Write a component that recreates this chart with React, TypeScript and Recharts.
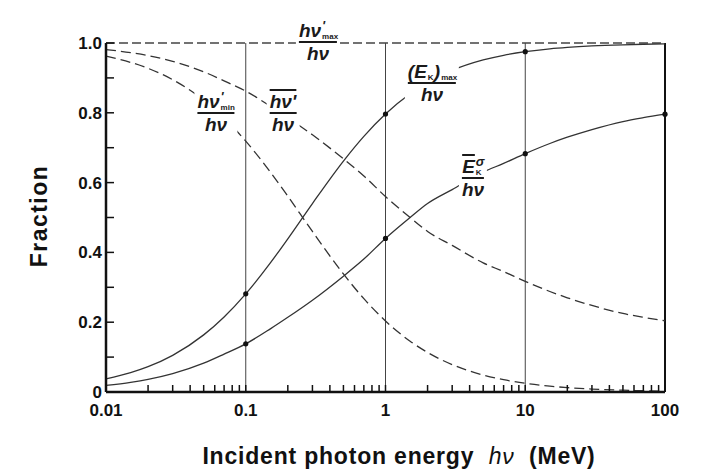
import React from 'react';
import { LineChart, Line, XAxis, YAxis, ReferenceLine } from 'recharts';

const FONT = '"Liberation Sans", Arial, Helvetica, sans-serif';

// incident photon energy, MeV
const energies = [0.01, 0.015, 0.02, 0.03, 0.05, 0.07, 0.1, 0.15, 0.2, 0.3, 0.5, 0.7, 1, 1.5, 2, 3, 5, 7, 10, 15, 20, 30, 50, 70, 100];

// (E_K)max / hν
const ekMaxFrac = [0.0377, 0.0555, 0.0726, 0.1051, 0.1637, 0.2151, 0.2813, 0.3699, 0.4391, 0.5401, 0.6618, 0.7326, 0.7965, 0.8545, 0.8867, 0.9215, 0.9514, 0.9648, 0.9751, 0.9833, 0.9874, 0.9916, 0.9949, 0.9964, 0.9975];
// mean E_K / hν
const ekMeanFrac = [0.0187, 0.0276, 0.0361, 0.0526, 0.0826, 0.1086, 0.138, 0.181, 0.214, 0.263, 0.332, 0.381, 0.44, 0.5, 0.54, 0.58, 0.63, 0.655, 0.683, 0.712, 0.73, 0.752, 0.775, 0.786, 0.796];
// hν'min / hν
const hvMinFrac = [0.9623, 0.9445, 0.9274, 0.8949, 0.8363, 0.7849, 0.7187, 0.6301, 0.5609, 0.4599, 0.3382, 0.2674, 0.2035, 0.1455, 0.1133, 0.0785, 0.0486, 0.0352, 0.0249, 0.0167, 0.0126, 0.0084, 0.0051, 0.0036, 0.0025];
// mean hν' / hν
const hvMeanFrac = [0.9813, 0.9724, 0.9639, 0.9474, 0.9174, 0.8914, 0.862, 0.819, 0.786, 0.737, 0.668, 0.619, 0.56, 0.5, 0.46, 0.42, 0.37, 0.345, 0.317, 0.288, 0.27, 0.248, 0.225, 0.214, 0.204];
// hν'max / hν
const hvMaxFrac = 1;

const xTicks = [
  0.01, 0.02, 0.03, 0.04, 0.05, 0.06, 0.07, 0.08, 0.09,
  0.1, 0.2, 0.3, 0.4, 0.5, 0.6, 0.7, 0.8, 0.9,
  1, 2, 3, 4, 5, 6, 7, 8, 9,
  10, 20, 30, 40, 50, 60, 70, 80, 90, 100,
];
const xLabels = [0.01, 0.1, 1, 10, 100];
const yTicks = [0, 0.1, 0.2, 0.3, 0.4, 0.5, 0.6, 0.7, 0.8, 0.9, 1];
const yLabels = ['0', '', '0.2', '', '0.4', '', '0.6', '', '0.8', '', '1.0'];
const gridEnergies = [0.1, 1, 10];
const ekMaxMarks = [0.1, 1, 10];
const ekMeanMarks = [0.1, 1, 10, 100];

const data = energies.map((e, i) => ({
  e,
  ekMax: ekMaxFrac[i],
  ekMean: ekMeanFrac[i],
  hvMin: hvMinFrac[i],
  hvMean: hvMeanFrac[i],
}));

const makeDot = (marks: number[]) => (props: any) => {
  const { cx, cy, payload, index } = props;
  if (!marks.includes(payload.e)) return <g key={`n${index}`} />;
  return <circle key={`d${index}`} cx={cx} cy={cy} r={2.6} fill="#111" />;
};

// super/subscript pair stacked after a symbol (absolute so they don't collide)
const Scripts = ({ sup, sub, w }: { sup?: string; sub?: string; w: number }) => (
  <span style={{ position: 'relative', display: 'inline-block', width: w, height: 19, verticalAlign: 'top', marginLeft: 1 }}>
    {sup && <span style={{ position: 'absolute', left: 0, top: -1, fontSize: 13, lineHeight: '12px' }}>{sup}</span>}
    {sub && <span style={{ position: 'absolute', left: 0, top: 12, fontSize: 8, lineHeight: '8px', fontStyle: 'normal' }}>{sub}</span>}
  </span>
);

const Frac = ({ x, y, num, den }: { x: number; y: number; num: React.ReactNode; den: React.ReactNode }) => (
  <div
    style={{
      position: 'absolute', left: x, top: y, transform: 'translate(-50%, -50%)',
      background: '#fff', display: 'flex', flexDirection: 'column', alignItems: 'center',
      fontFamily: FONT, fontStyle: 'italic', fontWeight: 700, fontSize: 19, lineHeight: '19px',
      color: '#1a1a1a', padding: '1px 3px',
    }}
  >
    <div style={{ whiteSpace: 'nowrap' }}>{num}</div>
    <div style={{ alignSelf: 'stretch', borderTop: '2px solid #1a1a1a', margin: '1px 0' }} />
    <div style={{ whiteSpace: 'nowrap' }}>{den}</div>
  </div>
);

export default function App() {
  return (
    <div style={{ position: 'absolute', left: 0, top: 0, width: 704, height: 469, background: '#fff' }}>
      <LineChart width={704} height={469} data={data} margin={{ top: 43, right: 39, left: 46, bottom: 47 }}>
        <XAxis
          dataKey="e"
          type="number"
          scale="log"
          domain={[0.01, 100]}
          ticks={xTicks}
          interval={0}
          tickFormatter={(v: number) => (xLabels.includes(v) ? String(v) : '')}
          tickSize={-7}
          tickMargin={19}
          height={30}
          axisLine={{ stroke: '#111', strokeWidth: 2.5 }}
          tickLine={{ stroke: '#111', strokeWidth: 1.5 }}
          tick={{ fill: '#111', fontSize: 17, fontWeight: 700, fontFamily: FONT }}
        />
        <YAxis
          type="number"
          domain={[0, 1]}
          ticks={yTicks}
          interval={0}
          tickFormatter={(v: number, i: number) => yLabels[i]}
          tickSize={-8}
          tickMargin={12}
          width={60}
          axisLine={{ stroke: '#111', strokeWidth: 2.5 }}
          tickLine={{ stroke: '#111', strokeWidth: 1.5 }}
          tick={{ fill: '#111', fontSize: 17, fontWeight: 700, fontFamily: FONT }}
        />
        {gridEnergies.map((g) => (
          <ReferenceLine key={g} x={g} stroke="#444" strokeWidth={1} />
        ))}
        <ReferenceLine x={100} stroke="#111" strokeWidth={2} />
        <ReferenceLine y={hvMaxFrac} stroke="#444" strokeWidth={1.4} strokeDasharray="9 4" />
        <Line dataKey="hvMean" type="monotone" stroke="#333" strokeWidth={1.3} strokeDasharray="10 5" dot={false} isAnimationActive={false} />
        <Line dataKey="hvMin" type="monotone" stroke="#333" strokeWidth={1.3} strokeDasharray="10 5" dot={false} isAnimationActive={false} />
        <Line dataKey="ekMax" type="monotone" stroke="#333" strokeWidth={1.3} dot={makeDot(ekMaxMarks)} isAnimationActive={false} />
        <Line dataKey="ekMean" type="monotone" stroke="#333" strokeWidth={1.3} dot={makeDot(ekMeanMarks)} isAnimationActive={false} />
      </LineChart>

      <Frac x={216} y={113} num={<span>hν<Scripts sup="'" sub="min" w={14} /></span>} den="hν" />
      <Frac x={318} y={42} num={<span>hν<Scripts sup="'" sub="max" w={15} /></span>} den="hν" />
      <Frac x={283} y={113} num={<span style={{ textDecoration: 'overline', textDecorationThickness: 2 }}>hν'</span>} den="hν" />
      <Frac x={432} y={83} num={<span>(E<Scripts sub="K" w={6} />)<Scripts sub="max" w={15} /></span>} den="hν" />
      <Frac x={473} y={178} num={<span><span style={{ textDecoration: 'overline', textDecorationThickness: 2 }}>E</span><Scripts sup="σ" sub="K" w={8} /></span>} den="hν" />

      <div
        style={{
          position: 'absolute', left: 39, top: 216, transform: 'translate(-50%, -50%) rotate(-90deg)',
          fontFamily: FONT, fontWeight: 700, fontSize: 23, letterSpacing: 1.5, color: '#111', whiteSpace: 'nowrap',
        }}
      >
        Fraction
      </div>
      <div
        style={{
          position: 'absolute', left: 399, top: 456, transform: 'translate(-50%, -50%)',
          fontFamily: FONT, fontWeight: 700, fontSize: 23, letterSpacing: 0.8, color: '#111', whiteSpace: 'pre',
        }}
      >
        {'Incident photon energy  '}<i style={{ fontWeight: 500 }}>hν</i>{'  (MeV)'}
      </div>
    </div>
  );
}
